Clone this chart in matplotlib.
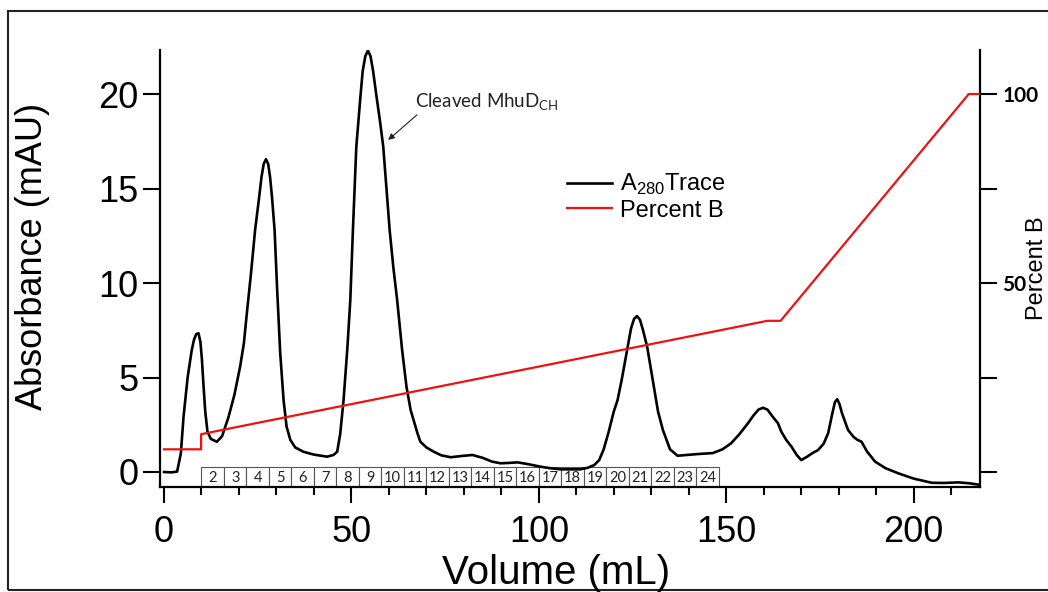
import matplotlib
matplotlib.use("Agg")
import matplotlib.pyplot as plt
from matplotlib.patches import Rectangle
from matplotlib.ticker import MultipleLocator, FixedLocator, FixedFormatter
import matplotlib.transforms as mtransforms

plt.rcParams['font.family'] = ['Liberation Sans', 'DejaVu Sans']

# ---------------- data ----------------
volume_ml = [0, 2, 3.5, 4.5, 5.2, 6.3, 7.4, 8.0, 8.6, 9.2, 9.7, 10.1, 10.5, 11.0, 11.6, 12.5, 14.1,
             15.5, 17.2, 18.8, 20.3, 21.3, 22.1, 23.2, 24.3, 25.4, 26.0, 26.6, 27.2, 27.8,
             28.3, 28.8, 29.5, 30.2, 31.0, 31.9, 32.7, 33.7, 35.0, 37.2, 40.0, 43.5, 45.2,
             46.2, 47.0, 47.9, 48.9, 49.7, 50.4, 51.3, 52.4, 53.0, 53.7, 54.4, 55.1, 55.8,
             56.7, 57.6, 58.5, 60.2, 61.2, 62.2, 63.5, 64.7, 65.8, 67.6, 68.4, 70.0, 72.0, 74.0,
             76.5, 79.5, 82.3, 85.0, 87.5, 89.8, 92.0, 94.3, 97.0, 100.5, 103.0, 106.0,
             111.0, 113.0, 114.8, 116.1, 117.3, 118.6, 120.0, 121.0, 122.1, 123.7,
             124.6, 125.4, 126.2, 127.0, 127.8, 128.9, 130.4, 131.8, 133.1, 135.0, 137.0, 139.5,
             142.4, 146.4, 149.0, 151.3, 153.5, 155.8, 157.3, 158.6, 159.8, 161.0, 162.3, 163.8,
             164.7, 166.0, 167.4, 168.8, 170.0, 171.5, 173.0, 174.5, 176.0, 177.2,
             178.3, 179.0, 179.6, 180.2, 180.9, 182.5, 184.0, 185.0, 186.1, 187.5, 189.7, 192.5,
             195.9, 200.0, 204.8, 208.0, 212.0, 215.0, 217.3]
a280_mau = [0.0, -0.02, 0.02, 1.0, 2.9, 5.0, 6.45, 7.0, 7.3, 7.34, 6.9, 6.0, 4.7, 3.2, 2.13, 1.75, 1.6,
            1.9, 2.9, 4.1, 5.57, 6.8, 8.4, 10.5, 12.8, 14.57, 15.6, 16.3, 16.55, 16.3,
            15.6, 14.57, 12.8, 9.6, 6.3, 3.8, 2.4, 1.7, 1.3, 1.07, 0.92, 0.81, 0.9,
            1.07, 2.0, 3.8, 6.5, 9.1, 12.8, 17.2, 19.86, 21.2, 22.0, 22.3, 22.0, 21.2,
            19.86, 18.6, 17.2, 12.8, 10.8, 9.1, 6.5, 4.5, 3.28, 2.06, 1.6, 1.3, 1.07, 0.88,
            0.78, 0.85, 0.9, 0.75, 0.55, 0.46, 0.48, 0.51, 0.42, 0.28, 0.2, 0.14,
            0.14, 0.22, 0.37, 0.63, 1.2, 2.1, 3.2, 3.8, 4.87, 6.63,
            7.6, 8.1, 8.25, 8.05, 7.5, 6.63, 4.87, 3.2, 2.22, 1.2, 0.86, 0.9,
            0.95, 1.0, 1.2, 1.52, 2.0, 2.58, 3.0, 3.3, 3.4, 3.3, 2.95, 2.58,
            2.13, 1.7, 1.34, 0.9, 0.63, 0.8, 1.0, 1.16, 1.5, 2.06,
            3.1, 3.7, 3.85, 3.6, 3.1, 2.22, 1.85, 1.7, 1.6, 1.1, 0.55, 0.2,
            -0.07, -0.35, -0.57, -0.58, -0.55, -0.6, -0.67]

gradient_ml = [0, 9.9, 9.9, 161.0, 164.5, 214.7, 217.7]
percent_b = [6, 6, 10, 40, 40, 100, 100]

fraction_labels = [str(i) for i in range(2, 25)]
fraction_start_ml = 10.0
fraction_width_ml = 6.0

x_major = [0, 50, 100, 150, 200]
y_left_ticks = [0, 5, 10, 15, 20]
y_right_ticks = [0, 25, 50, 75, 100]
y_right_labels = ['', '', '50', '', '100']

# ---------------- figure ----------------
W, H = 1048, 592
fig = plt.figure(figsize=(W / 100, H / 100), dpi=100)
fig.patch.set_facecolor('white')

ax = fig.add_axes([160 / W, 1 - 487 / H, 820 / W, 437 / H])
ax2 = ax.twinx()

ax.set_xlim(-1.07, 217.7)
ax.set_ylim(-0.794, 22.33)
ax2.set_ylim(-0.794 * 5, 22.33 * 5)

# fraction boxes
trans = mtransforms.blended_transform_factory(ax.transData, ax.transAxes)
box_h = 20 / 437
for i, lab in enumerate(fraction_labels):
    x0 = fraction_start_ml + i * fraction_width_ml
    ax.add_patch(Rectangle((x0, 0), fraction_width_ml, box_h, transform=trans,
                           facecolor='white', edgecolor='#555555', lw=0.8, zorder=1))
    ax.text(x0 + fraction_width_ml / 2, box_h * 0.45, lab, transform=trans,
            ha='center', va='center', fontsize=10.5, family=['Lato', 'DejaVu Sans'],
            color='#222222', zorder=1.5)

line_a, = ax.plot(volume_ml, a280_mau, color='black', lw=1.9, zorder=3,
                  solid_joinstyle='round', label=r'A$_{\mathregular{280}}$Trace')
line_b, = ax2.plot(gradient_ml, percent_b, color='#ee1111', lw=1.6, zorder=3,
                   label='Percent B')

# spines
for s in ['top', 'right']:
    ax.spines[s].set_visible(False)
for s in ['top', 'left', 'bottom']:
    ax2.spines[s].set_visible(False)
ax.spines['left'].set_linewidth(1.6)
ax.spines['bottom'].set_linewidth(1.6)
ax2.spines['right'].set_linewidth(1.6)

# ticks
ax.xaxis.set_major_locator(FixedLocator(x_major))
ax.xaxis.set_minor_locator(MultipleLocator(10))
ax.yaxis.set_major_locator(FixedLocator(y_left_ticks))
ax.tick_params(axis='x', which='major', length=11.5, width=1.5, labelsize=26, pad=9)
ax.tick_params(axis='x', which='minor', length=5.8, width=1.5)
ax.tick_params(axis='y', which='major', length=12, width=1.5, labelsize=26, pad=3.6)
ax2.yaxis.set_major_locator(FixedLocator(y_right_ticks))
ax2.yaxis.set_major_formatter(FixedFormatter(y_right_labels))
ax2.tick_params(axis='y', which='major', length=12, width=1.5, labelsize=15, pad=4)
for t in ax2.get_yticklabels():
    t.set_fontweight('bold')
    t.set_family(['Lato', 'DejaVu Sans'])

# axis labels
fig.text(33 / W, 1 - 256 / H, 'Absorbance (mAU)', rotation=90, ha='center', va='center',
         fontsize=26)
fig.text(556 / W, 1 - 573 / H, 'Volume (mL)', ha='center', va='center', fontsize=29)
fig.text(1026 / W, 1 - 268 / H, 'Percent B', rotation=90, ha='left', va='center',
         fontsize=17)

# annotation
ax.annotate('', xy=(59.8, 17.57), xytext=(67.5, 18.9),
            arrowprops=dict(arrowstyle='-|>', lw=0.8, color='#222222', mutation_scale=9,
                            shrinkA=0, shrinkB=0))
ax.text(67.0, 19.3, r'Cleaved MhuD$_{\mathregular{CH}}$', ha='left', va='baseline',
        fontsize=13.5, family=['Lato', 'DejaVu Sans'], color='#222222')

# legend
fig.legend(handles=[line_a, line_b], loc='upper left',
           bbox_to_anchor=(567 / W, 1 - 172 / H), frameon=False, fontsize=17,
           borderpad=0, borderaxespad=0, handlelength=1.9, handletextpad=0.35,
           labelspacing=0.1)

# outer frame
fig.add_artist(Rectangle((8 / W, 2 / H), 1.2, 579 / H, transform=fig.transFigure,
                         fill=False, edgecolor='#222222', lw=1.5, clip_on=False))

fig.savefig('out.png', dpi=100)
